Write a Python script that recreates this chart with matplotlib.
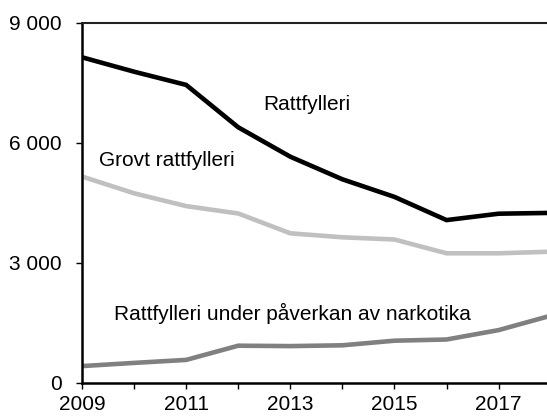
import numpy as np
import matplotlib
matplotlib.use("Agg")
import matplotlib.pyplot as plt
from matplotlib.ticker import FuncFormatter, MultipleLocator

plt.rcParams['font.family'] = ['Liberation Sans', 'DejaVu Sans']

years = [2009, 2010, 2011, 2012, 2013, 2014, 2015, 2016, 2017, 2018]
rattfylleri = [8130, 7770, 7440, 6380, 5645, 5080, 4640, 4060, 4220, 4240]
grovt = [5150, 4730, 4410, 4225, 3730, 3630, 3575, 3230, 3230, 3270]
narkotika = [410, 490, 565, 920, 910, 930, 1045, 1075, 1310, 1670]

series_names = ["Rattfylleri", "Grovt rattfylleri", "Rattfylleri under påverkan av narkotika"]
y_ticks = [0, 3000, 6000, 9000]
x_ticks = [2009, 2011, 2013, 2015, 2017]

W, H = 547, 416
fig = plt.figure(figsize=(W / 100, H / 100), dpi=100)
ax = fig.add_axes([82 / W, (H - 382.5) / H, (550.7 - 82) / W, (382.5 - 22.5) / H])

ax.plot(years, rattfylleri, color='#000000', lw=3.3, solid_joinstyle='miter')
ax.plot(years, grovt, color='#c0c0c0', lw=3.3, solid_joinstyle='miter')
ax.plot(years, narkotika, color='#808080', lw=3.3, solid_joinstyle='miter')

ax.set_xlim(2009, 2018)
ax.set_ylim(0, 9000)
ax.set_yticks(y_ticks)
ax.yaxis.set_major_formatter(FuncFormatter(lambda v, p: f"{int(v):,}".replace(",", " ")))
ax.set_xticks(x_ticks)
ax.xaxis.set_minor_locator(MultipleLocator(1))

ax.tick_params(axis='both', which='both', direction='out', length=4.3, width=1,
               labelsize=15, colors='black')
ax.tick_params(axis='y', pad=10.5)
ax.tick_params(axis='x', pad=5)

for side in ['left', 'bottom']:
    ax.spines[side].set_linewidth(1.8)
ax.spines['top'].set_linewidth(1.5)
ax.spines['top'].set_color('#222222')
ax.spines['right'].set_visible(False)

# labels next to the lines (baseline positions)
ax.text(2012.48, 6810, series_names[0], fontsize=15, va='baseline', ha='left')
ax.text(2009.33, 5410, series_names[1], fontsize=15, va='baseline', ha='left')
ax.text(2009.62, 1560, series_names[2], fontsize=15, va='baseline', ha='left')

fig.savefig("out.png", dpi=100)
